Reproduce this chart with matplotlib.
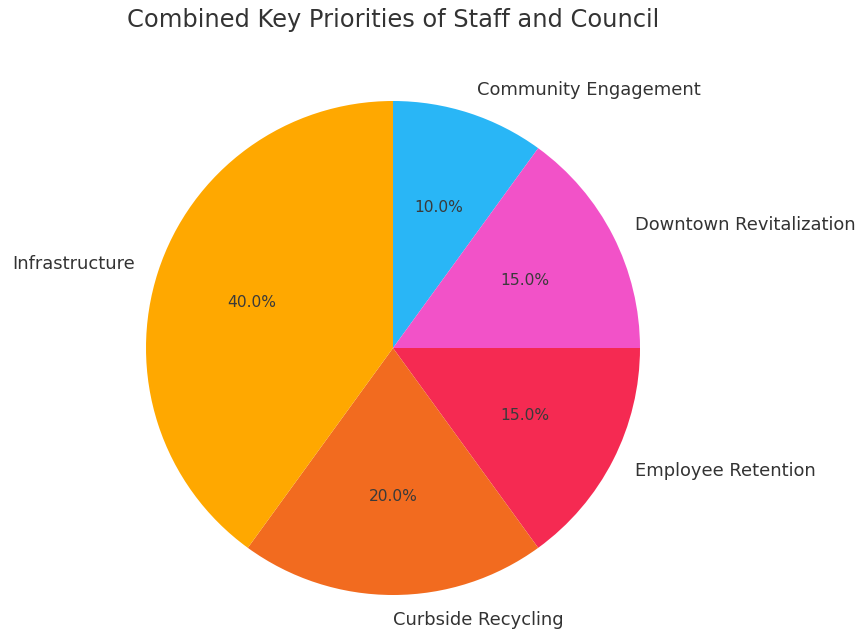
import matplotlib
matplotlib.use("Agg")
import matplotlib.pyplot as plt

categories = ["Community Engagement", "Downtown Revitalization", "Employee Retention",
              "Curbside Recycling", "Infrastructure"]
shares = [10, 15, 15, 20, 40]
colors = ["#29b6f6", "#f252c8", "#f52a52", "#f26b1f", "#ffa800"]

W, H = 861, 630
fig = plt.figure(figsize=(W / 100, H / 100), dpi=100)

# Pie centre and radius in pixels
cx, cy, r = 393, 348, 247
half = 1.25 * r
ax = fig.add_axes([(cx - half) / W, (H - cy - half) / H, 2 * half / W, 2 * half / H])

wedges, texts, autotexts = ax.pie(
    shares, labels=categories, colors=colors, autopct="%1.1f%%",
    startangle=90, counterclock=False,
    textprops={"color": "#333333", "fontsize": 12.9},
)
for t in autotexts:
    t.set_fontsize(11.2)
    t.set_color("#3a3a3a")
# bottom label sits to the right of the vertical axis
texts[categories.index("Curbside Recycling")].set_ha("left")
ax.set_xlim(-1.25, 1.25)
ax.set_ylim(-1.25, 1.25)
ax.set_aspect("equal")

fig.text(393 / W, 1 - 20 / H, "Combined Key Priorities of Staff and Council",
         ha="center", va="center", fontsize=17.4, color="#333333")

fig.savefig("out.png", dpi=100)
